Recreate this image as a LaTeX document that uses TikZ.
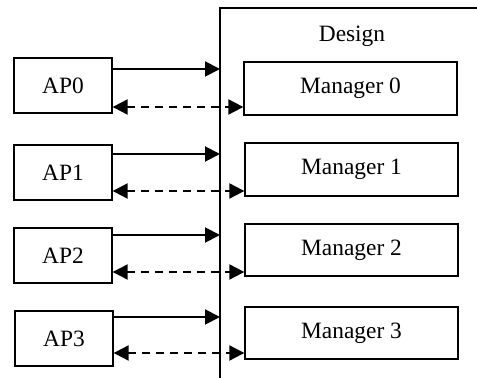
\documentclass[tikz,border=0pt]{standalone}
\usepackage{fontspec}
\setmainfont{Liberation Serif}
\usetikzlibrary{arrows.meta}
\begin{document}
\begin{tikzpicture}[x=0.5pt,y=-0.5pt,
  txt/.style={font=\fontsize{11.7}{14}\selectfont, inner sep=0pt},
  box/.style={txt, draw, line width=0.65pt},
  apbox/.style={box, minimum width=49pt, minimum height=27.5pt},
  mgrbox/.style={box, minimum width=106.5pt, minimum height=26.5pt},
  frame/.style={line width=0.6pt},
  sig/.style={line width=1pt, -{Triangle[length=7.5pt,width=7.5pt]}},
  ack/.style={line width=1pt, dash pattern=on 4pt off 3pt,
    {Triangle[length=7.5pt,width=7.5pt]}-{Triangle[length=7.5pt,width=7.5pt]}}]
\useasboundingbox (0,0) rectangle (477,378);
% design frame
\draw[frame] (477,8) -- (220,8) -- (220,378);
\node[txt] (design) at (352,36) {Design};
% AP boxes
\node[apbox] (ap0) at (63,85.5) {AP0};
\node[apbox] (ap1) at (63,172.5) {AP1};
\node[apbox] (ap2) at (63,255.5) {AP2};
\node[apbox] (ap3) at (64,338.5) {AP3};
% manager boxes
\node[mgrbox] (m0) at (350.5,88.5) {Manager 0};
\node[mgrbox] (m1) at (351.5,169.5) {Manager 1};
\node[mgrbox, minimum height=26pt] (m2) at (351.5,250) {Manager 2};
\node[mgrbox, minimum height=26pt] (m3) at (351.5,333) {Manager 3};
% points on the design boundary
\coordinate (d0) at (220,69);
\coordinate (d1) at (220,154);
\coordinate (d2) at (220,235);
\coordinate (d3) at (220,317);
\coordinate (e0) at (220,107);
\coordinate (e1) at (220,191);
\coordinate (e2) at (220,272);
\coordinate (e3) at (220,353);
% arrows
\draw[sig] (ap0.east |- d0) -- (d0);
\draw[sig] (ap1.east |- d1) -- (d1);
\draw[sig] (ap2.east |- d2) -- (d2);
\draw[sig] (ap3.east |- d3) -- (d3);
\draw[ack] (ap0.east |- e0) -- (m0.west |- e0);
\draw[ack] (ap1.east |- e1) -- (m1.west |- e1);
\draw[ack] (ap2.east |- e2) -- (m2.west |- e2);
\draw[ack] (ap3.east |- e3) -- (m3.west |- e3);
\end{tikzpicture}
\end{document}
